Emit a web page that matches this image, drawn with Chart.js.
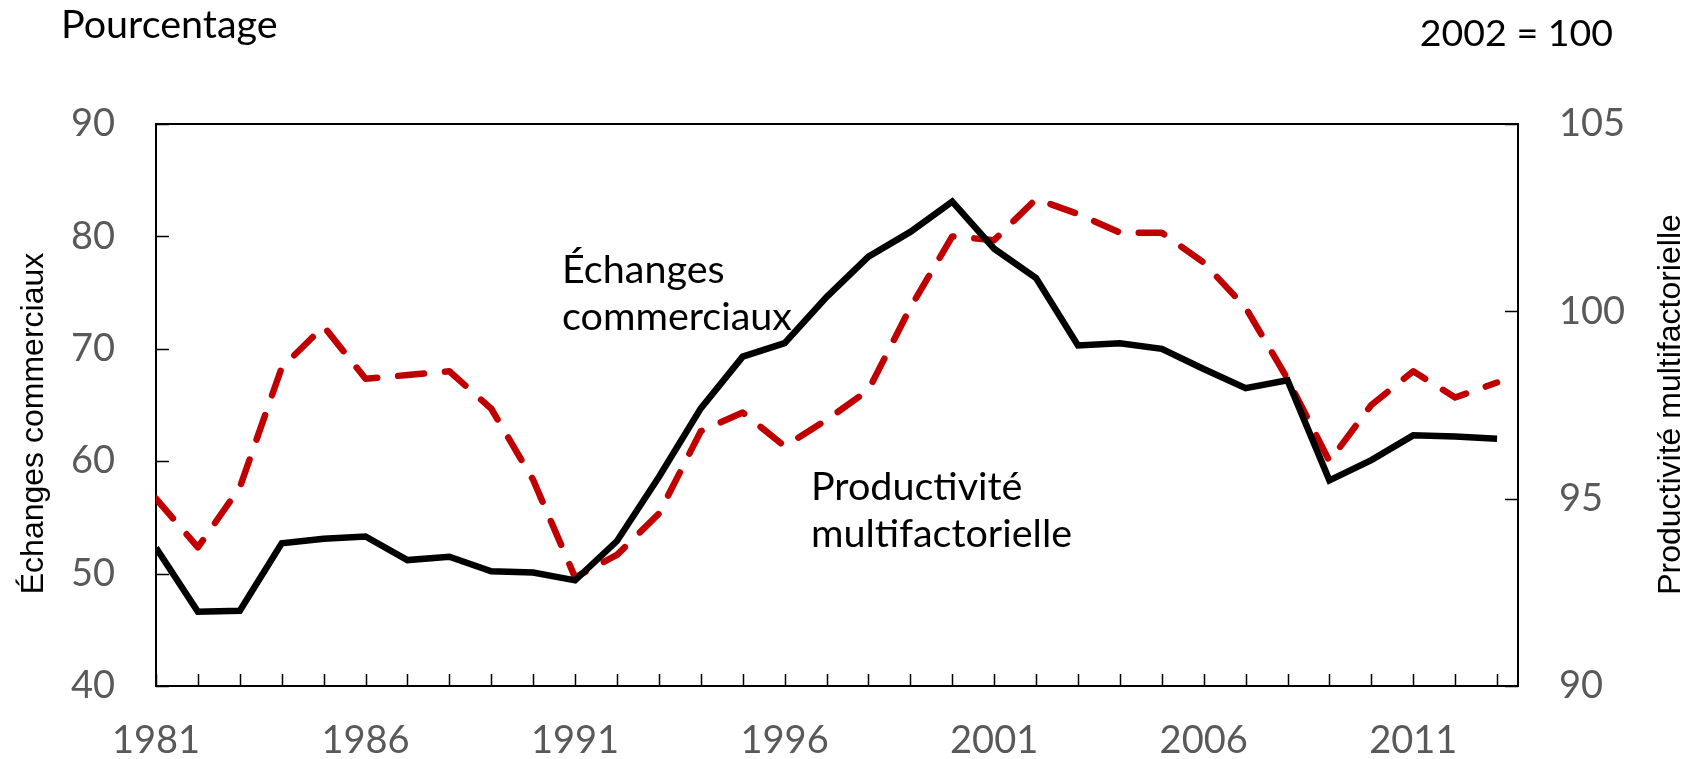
<!DOCTYPE html>
<html>
<head>
<meta charset="utf-8">
<script src="https://cdn.jsdelivr.net/npm/chart.js@4.4.1/dist/chart.umd.min.js"></script>
<style>
  html, body { margin: 0; padding: 0; background: #fff; }
  #chart { display: block; }
</style>
</head>
<body>
<canvas id="chart" width="1700" height="759"></canvas>
<script>
'use strict';
// years 1981-2013
const years = [];
for (let y = 1981; y <= 2013; y++) years.push(y);

// Échanges commerciaux (% , left axis)
const trade = [52.3, 46.6, 46.7, 52.7, 53.1, 53.3, 51.2, 51.5, 50.2, 50.1,
               49.4, 52.9, 58.6, 64.7, 69.3, 70.5, 74.6, 78.2, 80.4, 83.1,
               78.9, 76.3, 70.3, 70.5, 70.0, 68.2, 66.5, 67.2, 58.3, 60.1,
               62.3, 62.2, 62.0];
// Productivité multifactorielle (2002 = 100, right axis)
const mfp = [95.0, 93.7, 95.3, 98.5, 99.6, 98.2, 98.3, 98.4, 97.4, 95.5,
             92.9, 93.5, 94.6, 96.8, 97.3, 96.4, 97.1, 97.9, 100.1, 102.0,
             101.9, 103.0, 102.6, 102.1, 102.1, 101.3, 100.1, 98.2, 96.0, 97.5,
             98.4, 97.7, 98.1];

const leftTicks = [40, 50, 60, 70, 80, 90];
const rightTicks = [90, 95, 100, 105];
const labelEvery = 5;

const tickFont = { family: 'Lato', size: 38 };
const grey = '#595959';

const frame = {
    id: 'frame',
    beforeDraw(chart) {
        const ctx = chart.ctx;
        ctx.save();
        ctx.fillStyle = '#fff';
        ctx.fillRect(0, 0, chart.width, chart.height);
        ctx.restore();
    },
    beforeDatasetsDraw(chart) {
        const {ctx, chartArea: a, scales} = chart;
        ctx.save();
        ctx.strokeStyle = '#000';
        ctx.lineWidth = 2;
        ctx.strokeRect(a.left, a.top, a.right - a.left, a.bottom - a.top);
        ctx.lineWidth = 1.5;
        ctx.beginPath();
        years.forEach(y => {
            const px = Math.round(scales.x.getPixelForValue(y)) + 0.5;
            ctx.moveTo(px, a.bottom);
            ctx.lineTo(px, a.bottom - 12);
        });
        scales.y.ticks.forEach(t => {
            const py = Math.round(scales.y.getPixelForValue(t.value)) + 0.5;
            ctx.moveTo(a.left, py);
            ctx.lineTo(a.left + 13, py);
        });
        scales.y1.ticks.forEach(t => {
            const py = Math.round(scales.y1.getPixelForValue(t.value)) + 0.5;
            ctx.moveTo(a.right, py);
            ctx.lineTo(a.right - 13, py);
        });
        ctx.stroke();
        ctx.restore();
    },
    afterDraw(chart) {
        const ctx = chart.ctx;
        ctx.save();
        ctx.fillStyle = '#000';
        ctx.textBaseline = 'alphabetic';
        ctx.font = '39.5px Lato';
        ctx.textAlign = 'left';
        ctx.fillText('Pourcentage', 61, 37.5);
        ctx.fillText('Échanges', 562, 283);
        ctx.fillText('commerciaux', 562, 330);
        ctx.fillText('Productivité', 811, 500);
        ctx.fillText('multifactorielle', 811, 547);
        ctx.font = '37.5px Lato';
        ctx.textAlign = 'right';
        ctx.fillText('2002 = 100', 1613, 46);

        // axis titles, both read bottom to top
        ctx.font = '32px "Liberation Sans"';
        ctx.textAlign = 'center';
        ctx.save();
        ctx.translate(43, 423.5);
        ctx.rotate(-Math.PI / 2);
        ctx.fillText('Échanges commerciaux', 0, 0);
        ctx.restore();
        ctx.save();
        ctx.translate(1680, 404.5);
        ctx.rotate(-Math.PI / 2);
        ctx.fillText('Productivité multifactorielle', 0, 0);
        ctx.restore();
        ctx.restore();
    }
};

new Chart(document.querySelector('#chart'), {
    type: 'line',
    data: {
        datasets: [{
            label: 'Échanges commerciaux',
            data: years.map((y, i) => ({x: y, y: trade[i]})),
            yAxisID: 'y',
            borderColor: '#000',
            borderWidth: 6.5,
            borderJoinStyle: 'miter',
            pointRadius: 0,
            tension: 0,
            clip: 0
        },
        {
            label: 'Productivité multifactorielle',
            data: years.map((y, i) => ({x: y, y: mfp[i]})),
            yAxisID: 'y1',
            borderColor: '#C00000',
            borderWidth: 6.5,
            borderDash: [26, 21],
            borderCapStyle: 'round',
            borderJoinStyle: 'round',
            pointRadius: 0,
            tension: 0,
            clip: 0
        }]
    },
    options: {
        responsive: false,
        devicePixelRatio: 1,
        animation: false,
        layout: { padding: { top: 124, left: 0, right: 0, bottom: 0 } },
        plugins: {
            legend: { display: false },
            tooltip: { enabled: false }
        },
        scales: {
            x: {
                type: 'linear',
                position: 'bottom',
                min: 1981,
                max: 2013.5,
                grid: { display: false, drawTicks: false },
                border: { display: false },
                ticks: {
                    stepSize: 1,
                    autoSkip: false,
                    maxRotation: 0,
                    includeBounds: false,
                    padding: 32,
                    color: grey,
                    font: tickFont,
                    callback: v => (Number.isInteger(v) && (v - years[0]) % labelEvery === 0) ? String(v) : ''
                },
                afterFit: s => { s.height = 73; }
            },
            y: {
                position: 'left',
                min: leftTicks[0],
                max: leftTicks[leftTicks.length - 1],
                grid: { display: false, drawTicks: false },
                border: { display: false },
                ticks: { stepSize: 10, padding: 41, color: grey, font: tickFont },
                afterFit: s => { s.width = 156; }
            },
            y1: {
                position: 'right',
                min: rightTicks[0],
                max: rightTicks[rightTicks.length - 1],
                grid: { display: false, drawTicks: false },
                border: { display: false },
                ticks: { stepSize: 5, padding: 41, color: grey, font: tickFont },
                afterFit: s => { s.width = 182; }
            }
        }
    },
    plugins: [frame]
});
</script>
</body>
</html>
